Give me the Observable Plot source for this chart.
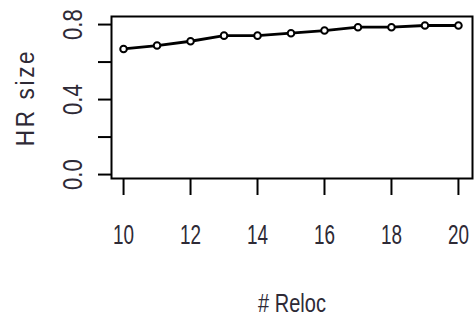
<!DOCTYPE html>
<html><head><meta charset="utf-8">
<script src="https://cdn.jsdelivr.net/npm/d3@7"></script>
<script src="https://cdn.jsdelivr.net/npm/@observablehq/plot@0.6"></script>
<style>body{margin:0;background:#fff}</style>
</head><body><div id="chart"></div>
<script>
const reloc = [10, 11, 12, 13, 14, 15, 16, 17, 18, 19, 20];
const hrSize = [0.670, 0.688, 0.711, 0.741, 0.741, 0.754, 0.768, 0.786, 0.786, 0.795, 0.795];
const xTicks = [10, 12, 14, 16, 18, 20];
const yTicks = [0, 0.2, 0.4, 0.6, 0.8];
const yTickLabels = ["0.0", "", "0.4", "", "0.8"];
const xTitle = "# Reloc";
const yTitle = "HR size";

const data = reloc.map((r, i) => ({reloc: r, hr: hrSize[i]}));
const txt = "#2e2a36";

const plot = Plot.plot({
  width: 474, height: 322,
  marginLeft: 111, marginRight: 2, marginTop: 16, marginBottom: 144,
  x: {domain: [9.64, 20.42]},
  y: {domain: [-0.021, 0.843]},
  style: {fontFamily: "'Liberation Sans', Arial, sans-serif", background: "#fff", color: "#000"},
  marks: [
    Plot.frame({stroke: "#000", strokeWidth: 2}),
    Plot.axisX({ticks: xTicks, tickSize: 17, tickFormat: () => "", label: null, strokeWidth: 2}),
    Plot.axisY({ticks: yTicks, tickSize: 13, tickFormat: () => "", label: null, strokeWidth: 2}),
    Plot.text(xTicks, {x: d => d, text: d => String(d), frameAnchor: "bottom", dy: 57,
      fontSize: 27, fill: txt, lineAnchor: "middle", className: "sx70"}),
    Plot.text(yTicks, {y: d => d, text: (d, i) => yTickLabels[i], frameAnchor: "left", dx: -38,
      rotate: -90, textAnchor: "middle", lineAnchor: "middle", fontSize: 27, fill: txt, className: "sx82"}),
    Plot.text([xTitle], {text: d => d, frameAnchor: "bottom", dy: 125, fontSize: 25,
      fill: txt, lineAnchor: "middle", className: "sx80"}),
    Plot.text([yTitle], {text: d => d, frameAnchor: "left", dx: -86, rotate: -90, fontSize: 25,
      fill: txt, lineAnchor: "middle", textAnchor: "middle", className: "sxls"}),
    Plot.line(data, {x: "reloc", y: "hr", stroke: "#000", strokeWidth: 2.8}),
    Plot.dot(data, {x: "reloc", y: "hr", r: 3.3, fill: "#fff", stroke: "#000", strokeWidth: 2})
  ]
});
document.getElementById("chart").appendChild(plot);

// condensed glyph look (style only)
[["sx70", 0.7], ["sx82", 0.82], ["sx80", 0.8], ["sxls", 0.9]].forEach(([cls, s]) => {
  plot.querySelectorAll("g." + cls + " text").forEach(t => {
    const tr = t.getAttribute("transform");
    if (tr) t.setAttribute("transform", `${tr} scale(${s},1)`);
    if (cls === "sxls") t.style.letterSpacing = "3px";
  });
});
</script>
</body></html>
